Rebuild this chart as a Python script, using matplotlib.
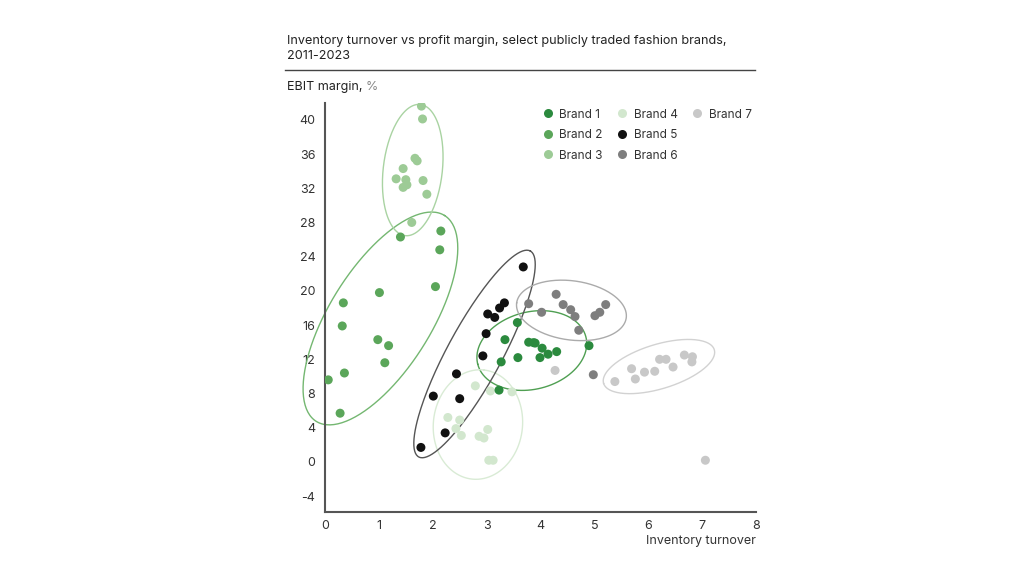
import numpy as np
import matplotlib
matplotlib.use("Agg")
import matplotlib.pyplot as plt
from matplotlib.lines import Line2D

plt.rcParams['font.family'] = ['Inter', 'DejaVu Sans']
plt.rcParams['axes.unicode_minus'] = False

# inventory turnover (x) and EBIT margin % (y) per brand
b1_x = [3.57, 3.34, 3.78, 3.87, 3.90, 4.03, 4.30, 4.14, 3.99, 3.58, 3.27, 4.90, 3.23]
b1_y = [16.3, 14.3, 14.0, 13.95, 13.9, 13.3, 12.9, 12.6, 12.2, 12.2, 11.7, 13.6, 8.4]
b2_x = [1.40, 2.15, 2.13, 2.05, 1.01, 0.34, 0.32, 0.98, 1.18, 1.11, 0.36, 0.06, 0.28]
b2_y = [26.3, 27.0, 24.8, 20.5, 19.8, 18.6, 15.9, 14.3, 13.6, 11.6, 10.4, 9.6, 5.7]
b3_x = [1.79, 1.81, 1.67, 1.71, 1.45, 1.32, 1.50, 1.82, 1.52, 1.45, 1.89, 1.61]
b3_y = [41.6, 40.1, 35.5, 35.2, 34.3, 33.1, 33.0, 32.9, 32.4, 32.1, 31.3, 28.0]
b4_x = [2.79, 3.07, 3.47, 2.28, 2.50, 2.43, 2.53, 3.02, 2.86, 2.95, 3.04, 3.12]
b4_y = [8.9, 8.3, 8.2, 5.2, 4.9, 3.9, 3.1, 3.8, 3.0, 2.8, 0.2, 0.2]
b5_x = [3.68, 3.33, 3.24, 3.02, 3.15, 2.99, 2.93, 2.44, 2.01, 2.50, 2.23, 1.78]
b5_y = [22.8, 18.6, 18.0, 17.3, 16.9, 15.0, 12.4, 10.3, 7.7, 7.4, 3.4, 1.7]
b6_x = [4.29, 3.78, 4.42, 4.56, 5.21, 4.02, 4.64, 5.10, 5.01, 4.71, 4.98]
b6_y = [19.6, 18.5, 18.4, 17.8, 18.4, 17.5, 17.0, 17.5, 17.1, 15.4, 10.2]
b7_x = [5.38, 5.69, 5.76, 5.93, 6.12, 6.21, 6.33, 6.46, 6.67, 6.82, 6.81, 7.06, 4.27]
b7_y = [9.4, 10.9, 9.7, 10.5, 10.6, 12.0, 12.0, 11.1, 12.5, 12.3, 11.7, 0.2, 10.7]

brands = ['Brand 1', 'Brand 2', 'Brand 3', 'Brand 4', 'Brand 5', 'Brand 6', 'Brand 7']
xs = [b1_x, b2_x, b3_x, b4_x, b5_x, b6_x, b7_x]
ys = [b1_y, b2_y, b3_y, b4_y, b5_y, b6_y, b7_y]
# points left out of each brand's ellipse (indices)
outliers = [[], [], [], [], [], [10], [11, 12]]

dot_colors = ['#2b8a3e', '#5ba65a', '#9dcb96', '#d2e7ce', '#111111', '#7e7e7e', '#c8c8c8']
ring_colors = ['#4f9f52', '#74b771', '#a9d3a2', '#d9ebd5', '#555555', '#ababab', '#d2d2d2']

fig = plt.figure(figsize=(10.24, 5.76), dpi=100)
ax = fig.add_axes([0.3174, 0.1111, 0.4209, 0.7106])
ax.set_xlim(0, 8)
ax.set_ylim(-5.85, 42)

# pixels per data unit, so the ellipses are fitted in screen space
sx = ax.bbox.width / 8.0
sy = ax.bbox.height / 47.85


def ring(x, y, n_std=1.6, pad=15.0):
    u = np.asarray(x) * sx
    v = np.asarray(y) * sy
    cov = np.cov(u, v)
    vals, vecs = np.linalg.eigh(cov)
    a = n_std * np.sqrt(vals[1]) + pad
    b = n_std * np.sqrt(max(vals[0], 0)) + pad
    t = np.linspace(0, 2 * np.pi, 200)
    pu = u.mean() + a * np.cos(t) * vecs[0, 1] + b * np.sin(t) * vecs[0, 0]
    pv = v.mean() + a * np.cos(t) * vecs[1, 1] + b * np.sin(t) * vecs[1, 0]
    return pu / sx, pv / sy


for i in range(len(brands)):
    keep = [k for k in range(len(xs[i])) if k not in outliers[i]]
    ex, ey = ring([xs[i][k] for k in keep], [ys[i][k] for k in keep])
    ax.plot(ex, ey, color=ring_colors[i], linewidth=1.0, zorder=2, clip_on=False)

for i in [6, 5, 3, 2, 1, 4, 0]:
    ax.scatter(xs[i], ys[i], s=42, color=dot_colors[i], edgecolors='none', zorder=3)

# legend handles (Brand 1..7, two blanks so Brand 7 sits alone in col 3)
handles = [Line2D([], [], marker='o', linestyle='none', markersize=6.5,
                  markerfacecolor=dot_colors[i], markeredgecolor='none')
           for i in range(len(brands))]
blank = Line2D([], [], linestyle='none')
ax.legend(handles + [blank, blank], brands + ['', ''], ncol=3, frameon=False, loc='upper right',
          bbox_to_anchor=(0.745, 0.83), bbox_transform=fig.transFigure,
          fontsize=8.5, handletextpad=0.5, columnspacing=1.15, labelspacing=0.72,
          handlelength=1.0, labelcolor='#333333')

ax.set_xticks(range(0, 9))
ax.set_yticks(range(-4, 41, 4))
ax.tick_params(length=0, labelsize=9, colors='#333333')
ax.tick_params(axis='y', pad=7)
ax.tick_params(axis='x', pad=6)
for s in ['top', 'right']:
    ax.spines[s].set_visible(False)
for s in ['left', 'bottom']:
    ax.spines[s].set_color('#555555')
    ax.spines[s].set_linewidth(1.5)

fig.text(0.280, 1 - 35 / 576, 'Inventory turnover vs profit margin, select publicly traded fashion brands,\n2011-2023',
         ha='left', va='top', fontsize=9.1, color='#222222', linespacing=1.3)
fig.add_artist(Line2D([0.278, 0.737], [1 - 70 / 576, 1 - 70 / 576], transform=fig.transFigure,
                      color='#444444', linewidth=1.0))
ylab = fig.text(0.280, 1 - 87 / 576, 'EBIT margin,', ha='left', va='center', fontsize=9, color='#222222')
r = fig.canvas.get_renderer()
bb = ylab.get_window_extent(renderer=r)
fig.text((bb.x1 + 3) / fig.bbox.width, 1 - 87 / 576, '%', ha='left', va='center', fontsize=9, color='#888888')
fig.text(0.738, 1 - 541 / 576, 'Inventory turnover', ha='right', va='center', fontsize=9, color='#333333')

fig.savefig('out.png', dpi=100, facecolor='white')
